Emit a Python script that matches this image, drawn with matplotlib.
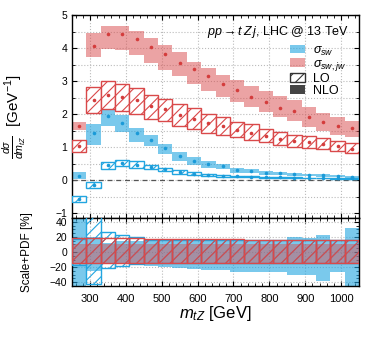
import numpy as np
import matplotlib
matplotlib.use('Agg')
import matplotlib.pyplot as plt
from matplotlib.patches import Patch
from matplotlib.ticker import MultipleLocator

plt.rcParams['font.family'] = ['Liberation Sans', 'DejaVu Sans']
plt.rcParams['mathtext.fontset'] = 'custom'
plt.rcParams['mathtext.rm'] = 'Liberation Sans'
plt.rcParams['mathtext.it'] = 'Liberation Sans:italic'
plt.rcParams['mathtext.bf'] = 'Liberation Sans:bold'
plt.rcParams['hatch.linewidth'] = 0.8

# ---------------- data ----------------
bin_edges = [250, 290, 330, 370, 410, 450, 490, 530, 570, 610, 650,
             690, 730, 770, 810, 850, 890, 930, 970, 1010, 1050]

# sigma_sw,jw  NLO
red_nlo = [1.65, 4.06, 4.44, 4.42, 4.26, 4.02, 3.82, 3.56, 3.36, 3.14,
           2.92, 2.72, 2.52, 2.38, 2.19, 2.09, 1.91, 1.77, 1.64, 1.57]
red_nlo_lo = [1.53, 3.72, 3.96, 3.95, 3.79, 3.54, 3.34, 3.14, 2.92, 2.71,
              2.52, 2.36, 2.20, 2.05, 1.92, 1.79, 1.62, 1.50, 1.38, 1.30]
red_nlo_hi = [1.75, 4.45, 4.68, 4.66, 4.52, 4.29, 4.09, 3.89, 3.59, 3.39,
              3.19, 3.02, 2.84, 2.69, 2.56, 2.44, 2.22, 2.04, 1.92, 1.80]

# sigma_sw,jw  LO
red_lo = [1.03, 2.42, 2.57, 2.51, 2.42, 2.24, 2.14, 1.96, 1.84, 1.74,
          1.64, 1.52, 1.44, 1.34, 1.24, 1.19, 1.14, 1.10, 1.03, 0.95]
red_lo_lo = [0.85, 2.04, 2.16, 2.09, 1.99, 1.84, 1.78, 1.64, 1.54, 1.44,
             1.38, 1.29, 1.22, 1.14, 1.05, 1.01, 0.97, 0.94, 0.88, 0.81]
red_lo_hi = [1.22, 2.82, 3.00, 2.92, 2.78, 2.59, 2.47, 2.29, 2.17, 2.00,
             1.90, 1.76, 1.69, 1.56, 1.46, 1.38, 1.32, 1.26, 1.19, 1.11]

# sigma_sw  NLO
blue_nlo = [0.13, 1.42, 1.94, 1.74, 1.42, 1.21, 0.96, 0.74, 0.59, 0.49,
            0.42, 0.30, 0.27, 0.22, 0.21, 0.18, 0.16, 0.14, 0.12, 0.10]
blue_nlo_lo = [0.02, 1.07, 1.64, 1.46, 1.16, 1.04, 0.79, 0.59, 0.46, 0.37,
               0.32, 0.22, 0.20, 0.16, 0.15, 0.12, 0.11, 0.09, 0.09, 0.06]
blue_nlo_hi = [0.25, 1.70, 2.17, 1.96, 1.59, 1.36, 1.09, 0.86, 0.69, 0.57,
               0.49, 0.36, 0.32, 0.26, 0.25, 0.22, 0.19, 0.17, 0.14, 0.13]

# sigma_sw  LO
blue_lo = [-0.57, -0.15, 0.45, 0.52, 0.46, 0.40, 0.32, 0.24, 0.19, 0.16,
           0.12, 0.11, 0.10, 0.09, 0.08, 0.07, 0.06, 0.06, 0.05, 0.05]
blue_lo_lo = [-0.67, -0.25, 0.35, 0.42, 0.38, 0.33, 0.26, 0.19, 0.15, 0.13,
              0.10, 0.09, 0.08, 0.075, 0.065, 0.06, 0.05, 0.05, 0.04, 0.04]
blue_lo_hi = [-0.48, -0.07, 0.55, 0.62, 0.57, 0.47, 0.38, 0.29, 0.23, 0.19,
              0.15, 0.13, 0.12, 0.105, 0.095, 0.08, 0.07, 0.07, 0.06, 0.06]

# relative Scale+PDF uncertainties [%] (lower panel)
blue_nlo_up = [95, 20, 12, 15, 15, 15, 15, 16, 16, 16,
               16, 16, 16, 16, 16, 20, 18, 23, 16, 32]
blue_nlo_dn = [-90, -25, -15, -16, -17, -18, -20, -21, -22, -24,
               -24, -26, -27, -27, -26, -31, -30, -38, -27, -60]
blue_lo_up = [17, 50, 26, 23, 20, 16, 16, 16, 16, 16,
              16, 16, 16, 16, 16, 16, 16, 16, 16, 16]
blue_lo_dn = [-17, -42, -21, -18, -16, -14, -14, -14, -14, -14,
              -14, -14, -14, -14, -14, -14, -14, -14, -14, -14]
red_nlo_up = [11, 11, 11, 11, 11, 11, 11, 11, 11, 11,
              11, 11, 11, 11, 11, 11, 11, 11, 11, 11]
red_nlo_dn = [-15, -15, -15, -15, -15, -15, -15, -15, -15, -15,
              -15, -15, -15, -15, -15, -15, -15, -15, -15, -15]
red_lo_up = [18, 18, 18, 18, 18, 17.5, 17.5, 17.5, 17, 17,
             17, 17, 16.5, 16.5, 16.5, 16, 16, 16, 16, 16]
red_lo_dn = [-15, -15, -15, -15, -15, -15, -15, -15, -15, -15,
             -15, -15, -15, -15, -15, -15, -15, -15, -15, -15]

xticks = [300, 400, 500, 600, 700, 800, 900, 1000]

# ---------------- styling ----------------
BLUE = '#22a5e0'
RED = '#d9494a'
BLUE_DOT = '#1a9ad8'
RED_DOT = '#d43c3c'

edges = np.array(bin_edges, dtype=float)
centers = 0.5 * (edges[1:] + edges[:-1])
widths = edges[1:] - edges[:-1]


def arr(a):
    return np.array(a, dtype=float)


fig = plt.figure(figsize=(3.74, 3.40), dpi=100)
ax1 = fig.add_axes([0.1925, 0.3588, 0.7675, 0.597])
ax2 = fig.add_axes([0.1925, 0.1588, 0.7675, 0.2], sharex=ax1)

# ----- top panel -----
ax1.axhline(0, color='#555555', ls=(0, (4, 3)), lw=0.9, zorder=1.5)
ax1.bar(centers, arr(red_nlo_hi) - arr(red_nlo_lo), bottom=arr(red_nlo_lo),
        width=widths, color=RED, alpha=0.5, lw=0, zorder=2)
ax1.bar(centers, arr(blue_nlo_hi) - arr(blue_nlo_lo), bottom=arr(blue_nlo_lo),
        width=widths, color=BLUE, alpha=0.6, lw=0, zorder=2)
ax1.bar(centers, arr(red_lo_hi) - arr(red_lo_lo), bottom=arr(red_lo_lo),
        width=widths, facecolor='white', edgecolor=RED, hatch='///', lw=1.0, zorder=3)
ax1.bar(centers, arr(blue_lo_hi) - arr(blue_lo_lo), bottom=arr(blue_lo_lo),
        width=widths, facecolor='white', edgecolor=BLUE, hatch='///', lw=1.0, zorder=3)
for vals, c in [(red_nlo, RED_DOT), (red_lo, RED_DOT), (blue_nlo, BLUE_DOT), (blue_lo, BLUE_DOT)]:
    ax1.plot(centers, vals, 'o', ms=2.6, color=c, mec='none', zorder=4)

ax1.set_ylim(-1.15, 5)
ax1.set_xlim(250, 1050)
ax1.yaxis.set_major_locator(MultipleLocator(1))
ax1.yaxis.set_minor_locator(MultipleLocator(0.5))
ax1.set_ylabel(r'$\frac{d\sigma}{dm_{tZ}}$  [GeV$^{-1}$]', fontsize=11)
ax1.yaxis.set_label_coords(-0.153, 0.5)
ax1.tick_params(labelbottom=False)

ax1.text(0.965, 0.915, r'$pp \to t\,Z\,j$, LHC @ 13 TeV', transform=ax1.transAxes,
         ha='right', va='center', fontsize=9)

handles = [Patch(facecolor=BLUE, alpha=0.6, lw=0),
           Patch(facecolor=RED, alpha=0.5, lw=0),
           Patch(facecolor='white', edgecolor='#333333', hatch='///', lw=1.0),
           Patch(facecolor='#444444', lw=0)]
labels = [r'$\sigma_{sw}$', r'$\sigma_{sw,jw}$', 'LO', 'NLO']
ax1.legend(handles, labels, loc='upper left', bbox_to_anchor=(0.76, 0.855),
           frameon=False, fontsize=9, handlelength=1.2, handleheight=0.7,
           handletextpad=0.6, labelspacing=0.0, borderpad=0, borderaxespad=0)

# ----- bottom panel -----
ax2.bar(centers, arr(blue_nlo_up) - arr(blue_nlo_dn), bottom=arr(blue_nlo_dn),
        width=widths, color=BLUE, alpha=0.6, lw=0, zorder=2)
ax2.bar(centers, arr(blue_lo_up) - arr(blue_lo_dn), bottom=arr(blue_lo_dn),
        width=widths, facecolor='none', edgecolor=BLUE, hatch='///', lw=1.0, zorder=3)
ax2.bar(centers, arr(red_nlo_up) - arr(red_nlo_dn), bottom=arr(red_nlo_dn),
        width=widths, color=RED, alpha=0.45, lw=0, zorder=4)
ax2.bar(centers, arr(red_lo_up) - arr(red_lo_dn), bottom=arr(red_lo_dn),
        width=widths, facecolor='none', edgecolor=RED, hatch='///', lw=1.0, zorder=5)

ax2.set_ylim(-45, 45)
ax2.yaxis.set_major_locator(MultipleLocator(20))
ax2.yaxis.set_minor_locator(MultipleLocator(5))
ax2.set_xticks(xticks)
ax2.xaxis.set_minor_locator(MultipleLocator(20))
ax2.set_ylabel('Scale+PDF [%]', fontsize=8.5)
ax2.yaxis.set_label_coords(-0.135, 0.5)
ax2.set_xlabel(r'$m_{tZ}$ [GeV]', fontsize=12)
ax2.xaxis.set_label_coords(0.5, -0.27)

for ax in (ax1, ax2):
    ax.set_axisbelow(True)
    ax.tick_params(which='both', direction='in', top=True, right=True,
                   labelsize=7.5)
    ax.tick_params(which='major', length=3.5, width=0.8)
    ax.tick_params(which='minor', length=2, width=0.6)
    ax.tick_params(axis='x', pad=6)
    ax.grid(True, which='major', axis='x', ls=':', color='#bbbbbb', lw=0.8)
    for sp in ax.spines.values():
        sp.set_linewidth(1.0)
ax1.grid(True, which='both', axis='y', ls=':', color='#bbbbbb', lw=0.8)
ax2.grid(True, which='major', axis='y', ls=':', color='#bbbbbb', lw=0.8)
ax2.tick_params(axis='y', labelsize=7.5)
ax2.tick_params(axis='x', labelsize=8)

fig.savefig('out.png', dpi=100)
